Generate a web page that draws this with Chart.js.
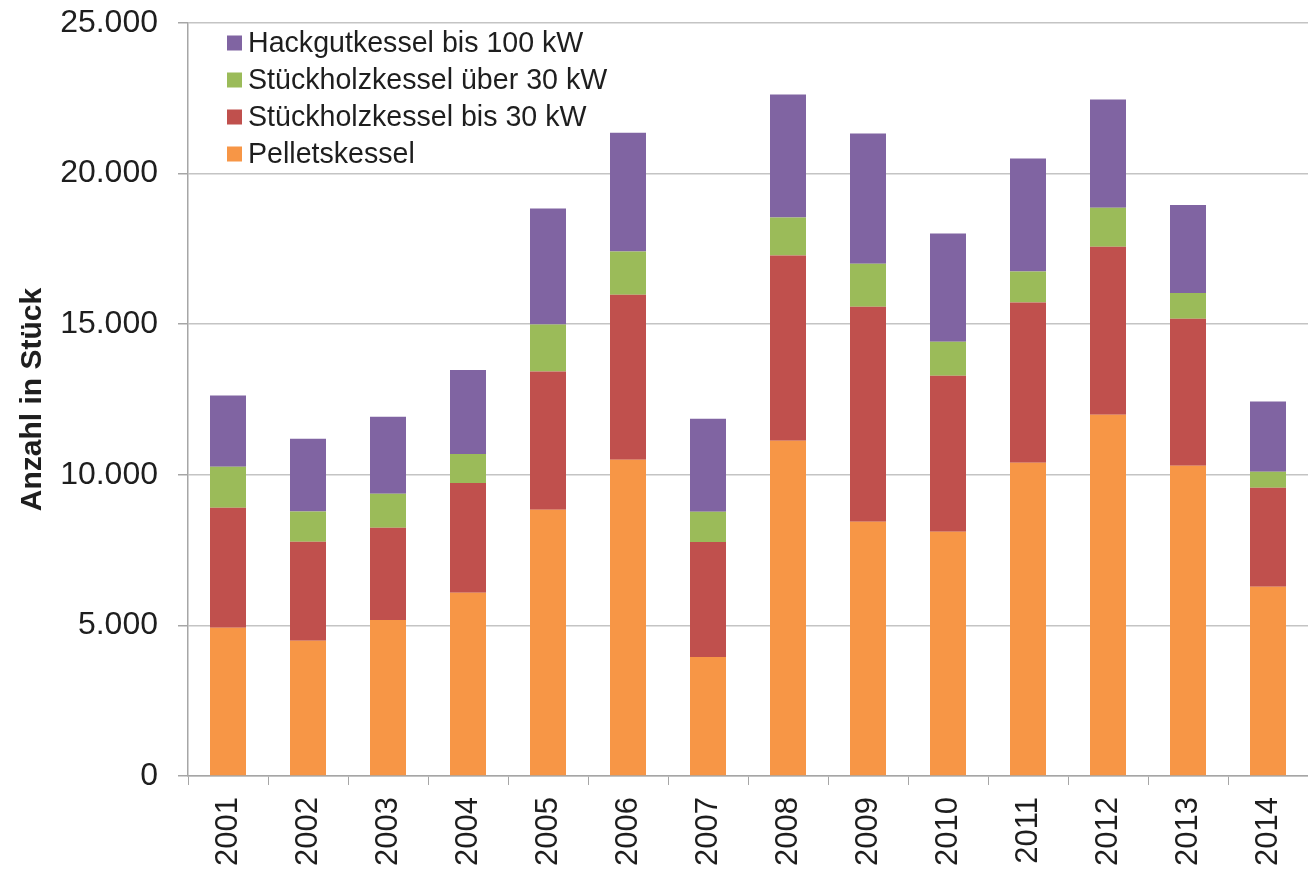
<!DOCTYPE html>
<html lang="de">
<head>
<meta charset="utf-8">
<title>Anzahl Biomassekessel 2001–2014</title>
<script src="https://cdn.jsdelivr.net/npm/chart.js@4.4.1/dist/chart.umd.min.js"></script>
<style>
  html,body{margin:0;padding:0;background:#fff;overflow:hidden;}
  #wrap{position:relative;width:1308px;height:870px;}
</style>
</head>
<body>
<div id="wrap"><canvas id="chart" width="1308" height="870"></canvas></div>
<script>
// ---- data ----
const years=['2001','2002','2003','2004','2005','2006','2007','2008','2009','2010','2011','2012','2013','2014'];
const pellets    =[4920,4490,5180,6080,8840,10500,3950,11130,8440,8110,10400,11990,10300,6280];
const holzBis30  =[3990,3290,3060,3650,4590,5480,3820,6150,7140,5180,5320,5580,4880,3290];
const holzUeber30=[1360,1000,1130, 960,1560,1430,1000,1260,1430,1130,1030,1300, 860, 530];
const hackgut    =[2360,2420,2560,2790,3850,3950,3090,4090,4320,3590,3750,3590,2920,2330];
const yTicks=[0,5000,10000,15000,20000,25000];

const FONT="'Liberation Sans', Arial, Helvetica, sans-serif";
const GRID='#c4c4c4',AXIS='#a6a6a6',TXT='#1e1e1e';

function fmt(v){return String(v).replace(/\B(?=(\d{3})+(?!\d))/g,'.');}

// legend drawn inside the plot, top-left, in reversed order (like the original)
const insideLegend={
  id:'insideLegend',
  afterDraw(chart){
    const {ctx,chartArea}=chart;
    const ds=chart.data.datasets.slice().reverse();
    const x0=chartArea.left+39,y0=chartArea.top+20,step=37,box=15;
    ctx.save();
    ctx.font='28.6px '+FONT;
    ctx.textBaseline='middle';
    ctx.textAlign='left';
    ds.forEach((d,i)=>{
      const cy=y0+i*step;
      ctx.fillStyle=d.backgroundColor;
      ctx.fillRect(x0,cy-box/2,box,box);
      ctx.fillStyle=TXT;
      ctx.fillText(d.label,x0+box+6,cy+1);
    });
    ctx.restore();
  }
};

const ctx=document.getElementById('chart').getContext('2d');
new Chart(ctx,{
  type:'bar',
  data:{labels:years,datasets:[
    {label:'Pelletskessel',data:pellets,backgroundColor:'#F79646'},
    {label:'Stückholzkessel bis 30 kW',data:holzBis30,backgroundColor:'#C0504D'},
    {label:'Stückholzkessel über 30 kW',data:holzUeber30,backgroundColor:'#9BBB59'},
    {label:'Hackgutkessel bis 100 kW',data:hackgut,backgroundColor:'#8064A2'}
  ]},
  options:{
    responsive:false,
    animation:false,
    devicePixelRatio:1,
    layout:{padding:{top:23,right:0,bottom:0,left:0}},
    datasets:{bar:{categoryPercentage:1,barPercentage:0.45,borderWidth:0}},
    plugins:{legend:{display:false},tooltip:{enabled:false}},
    scales:{
      x:{
        stacked:true,
        grid:{display:true,drawOnChartArea:false,drawTicks:true,tickLength:9,color:AXIS,tickColor:AXIS},
        border:{display:true,color:AXIS,width:1.5},
        ticks:{minRotation:90,maxRotation:90,padding:12,color:TXT,font:{family:FONT,size:31}},
        afterFit:s=>{s.height=94;s.paddingLeft=0;s.paddingRight=0;}
      },
      y:{
        stacked:true,min:0,max:25000,
        afterBuildTicks:s=>{s.ticks=yTicks.map(v=>({value:v}));},
        grid:{color:GRID,lineWidth:1.5,drawTicks:true,tickLength:10,tickColor:AXIS},
        border:{display:true,color:AXIS,width:1.5},
        ticks:{padding:20,color:TXT,font:{family:FONT,size:32},callback:v=>fmt(v)},
        title:{display:true,text:'Anzahl in Stück',color:TXT,font:{family:FONT,size:30,weight:'bold'},padding:{top:15,bottom:0}},
        afterFit:s=>{s.width=188;s.paddingTop=0;s.paddingBottom=0;}
      }
    }
  },
  plugins:[insideLegend]
});
</script>
</body>
</html>
